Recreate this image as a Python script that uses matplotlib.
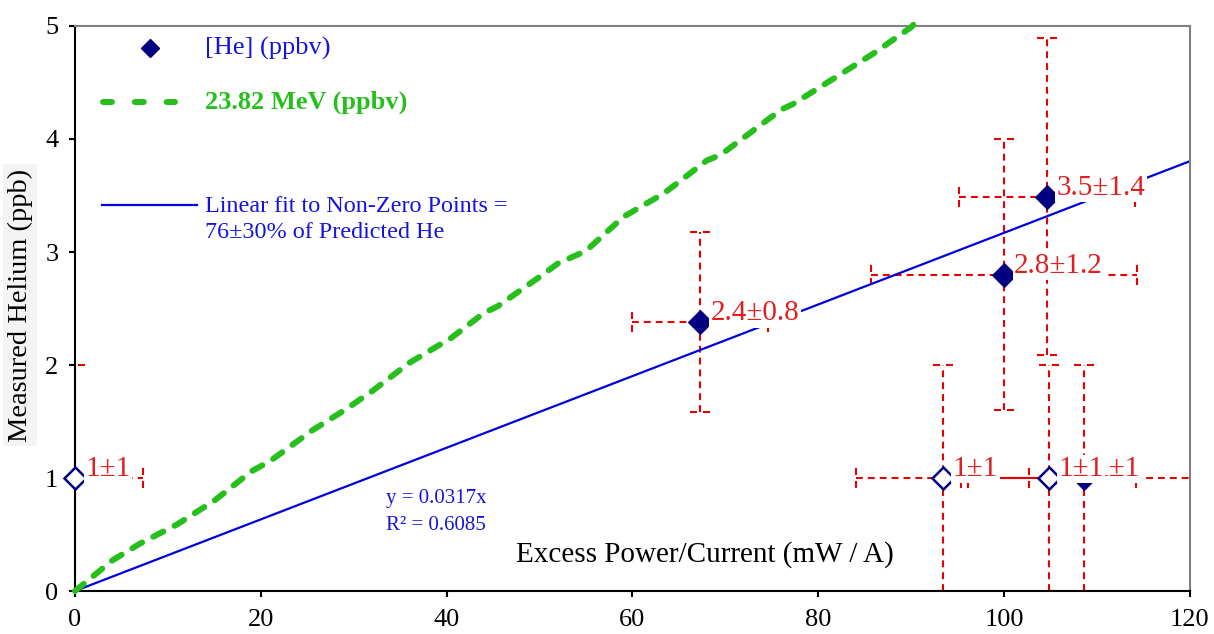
import matplotlib
matplotlib.use("Agg")
import matplotlib.pyplot as plt
from matplotlib.path import Path

plt.rcParams['font.family'] = ['Liberation Serif', 'DejaVu Serif']

# measured helium points (x = excess power / current, y = He ppb)
he_x = [0, 67.3, 100, 104.6, 93.4, 108.6, 104.8]
he_y = [1.0, 2.38, 2.8, 3.49, 1.0, 1.0, 1.0]
he_xerr = [7.3, 7.3, 14.3, 9.5, 9.3, 12.5, 9.4]
he_yerr = [1.0, 0.8, 1.2, 1.4, 1.0, 1.0, 1.0]
he_filled = [False, True, True, True, False, True, False]
he_labels = ["1±1", "2.4±0.8", "2.8±1.2", "3.5±1.4", "1±1", "1±1", "1±1"]

# predicted 23.82 MeV curve
pred_x = [0, 4, 7, 11, 15, 19, 21, 25.5, 29, 32, 36, 40.5, 44, 45.5, 50, 52,
          55, 59, 63.4, 68, 69.5, 76, 77.3, 86, 90, 91]
pred_y = [0, 0.27, 0.42, 0.59, 0.80, 1.06, 1.15, 1.42, 1.60, 1.77, 2.02, 2.24,
          2.46, 2.52, 2.78, 2.90, 3.01, 3.31, 3.52, 3.81, 3.86, 4.26, 4.31,
          4.76, 4.99, 5.08]

# trendline y = 0.0317x
fit_x = [0, 120]
fit_y = [0, 3.804]

navy = "#000080"
red = "#e60000"
green = "#26bf1c"
blue = "#0000dd"
txtblue = "#1414dc"

fig = plt.figure(figsize=(12.14, 6.34), dpi=100)
ax = fig.add_axes([0.0618, 0.0678, 0.9184, 0.8912])

# predicted line
ax.plot(pred_x, pred_y, color=green, lw=4.3, linestyle=(0, (1.9, 2.1)),
        dash_capstyle="round", clip_on=False, zorder=3)

# fit line
ax.plot(fit_x, fit_y, color=blue, lw=1.6, zorder=2.5)

# error bars, dashed
eb = ax.errorbar(he_x, he_y, xerr=he_xerr, yerr=he_yerr, fmt="none",
                 ecolor=red, elinewidth=1.5, capsize=0, zorder=2)
for lc in eb[2]:
    lc.set_linestyle((0, (3.3, 2.4)))

hcap = Path([(-1, 0), (-0.35, 0), (0.35, 0), (1, 0)], [1, 2, 1, 2])
vcap = Path([(0, -1), (0, -0.35), (0, 0.35), (0, 1)], [1, 2, 1, 2])
ytops = [y + e for y, e in zip(he_y, he_yerr)]
ybots = [y - e for y, e in zip(he_y, he_yerr)]
xlefts = [x - e for x, e in zip(he_x, he_xerr)]
xrights = [x + e for x, e in zip(he_x, he_xerr)]
ax.plot(he_x, ytops, ls="none", marker=hcap, ms=14, mec=red, mew=1.5, zorder=2)
ax.plot(he_x, ybots, ls="none", marker=hcap, ms=14, mec=red, mew=1.5, zorder=2)
ax.plot(xlefts, he_y, ls="none", marker=vcap, ms=14, mec=red, mew=1.5, zorder=2)
ax.plot(xrights, he_y, ls="none", marker=vcap, ms=14, mec=red, mew=1.5, zorder=2)

# markers
for x, y, f in zip(he_x, he_y, he_filled):
    ax.plot(x, y, marker="D", ms=11, mfc=navy if f else "white", mec=navy,
            mew=1.8, ls="none", zorder=4, clip_on=False)

# data labels with white boxes
for i, (x, y, lab) in enumerate(zip(he_x, he_y, he_labels)):
    ax.annotate(lab, (x, y), xytext=(10, 9), textcoords="offset pixels",
                ha="left", va="center", fontsize=21, color="#e02020",
                bbox=dict(boxstyle="square,pad=0.05", fc="white", ec="none"),
                zorder=5 + i * 0.01, annotation_clip=False)

ax.set_xlim(0, 120)
ax.set_ylim(0, 5)
ax.set_xticks(range(0, 121, 20))
ax.set_yticks(range(0, 6))
ax.tick_params(direction="out", length=4, width=1.5, labelsize=19)
ax.tick_params(axis="x", pad=9)
ax.tick_params(axis="y", pad=8)
for s in ["left", "bottom"]:
    ax.spines[s].set_color("black")
    ax.spines[s].set_linewidth(1.5)
for s in ["top", "right"]:
    ax.spines[s].set_color("#808080")
    ax.spines[s].set_linewidth(1.5)

# legend drawn by hand
ax.plot([0.0673], [0.961], transform=ax.transAxes, marker="D", ms=9, color=navy,
        ls="none", clip_on=False)
ax.text(0.1166, 0.961, "[He] (ppbv)", transform=ax.transAxes, fontsize=19,
        color=txtblue, va="center", ha="left")
ax.plot([0.0251, 0.0897], [0.8655, 0.8655], transform=ax.transAxes, color=green,
        lw=4.3, linestyle=(0, (1.5, 3.83)), dash_capstyle="round", clip_on=False)
ax.text(0.1166, 0.8655, "23.82 MeV (ppbv)", transform=ax.transAxes, fontsize=19,
        fontweight="bold", color=green, va="center", ha="left")
ax.plot([0.0242, 0.1094], [0.683, 0.683], transform=ax.transAxes, color=blue, lw=1.6)
ax.text(0.1166, 0.658, "Linear fit to Non-Zero Points =\n76±30% of Predicted He",
        transform=ax.transAxes, fontsize=17.4, color=txtblue, va="center",
        ha="left", linespacing=1.3)

# equation of trendline
ax.text(0.3237, 0.1398, "y = 0.0317x\nR² = 0.6085", transform=ax.transAxes,
        fontsize=15, color=txtblue, ha="center", va="center", linespacing=1.6)

# axis titles
ax.text(0.565, 0.0637, "Excess Power/Current (mW / A)", transform=ax.transAxes,
        fontsize=21, ha="center", va="center")
fig.text(0.0165, 0.519, "Measured Helium (ppb)", rotation=90, fontsize=20.5,
         ha="center", va="center",
         bbox=dict(boxstyle="square,pad=0.15", fc="#f4f4f4", ec="none"))

fig.savefig("out.png", dpi=100)
